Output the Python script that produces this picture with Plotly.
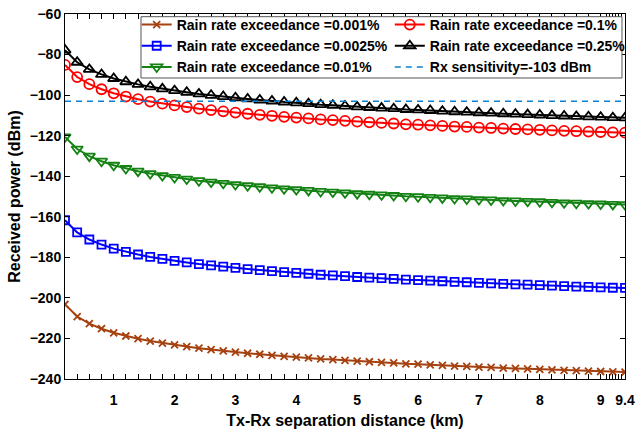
import plotly.graph_objects as go

# Tx-Rx separation distance (km), 0.2 km steps
distance_km = [round(0.2 * k, 1) for k in range(1, 48)]

# Received power (dBm) for each rain rate exceedance
p_0001 = [-203.2, -209.2, -212.7, -215.2, -217.2, -218.8, -220.1, -221.3, -222.3, -223.2,
          -224.0, -224.8, -225.5, -226.1, -226.7, -227.3, -227.8, -228.3, -228.8, -229.2,
          -229.6, -230.1, -230.4, -230.8, -231.2, -231.5, -231.8, -232.1, -232.5, -232.7,
          -233.0, -233.3, -233.6, -233.8, -234.1, -234.3, -234.6, -234.8, -235.0, -235.2,
          -235.5, -235.7, -235.9, -236.1, -236.3, -236.5, -236.6]
p_00025 = [-161.7, -167.7, -171.2, -173.7, -175.7, -177.3, -178.6, -179.8, -180.8, -181.7,
           -182.5, -183.3, -184.0, -184.6, -185.2, -185.8, -186.3, -186.8, -187.3, -187.7,
           -188.1, -188.6, -188.9, -189.3, -189.7, -190.0, -190.3, -190.6, -191.0, -191.2,
           -191.5, -191.8, -192.1, -192.3, -192.6, -192.8, -193.1, -193.3, -193.5, -193.7,
           -194.0, -194.2, -194.4, -194.6, -194.8, -195.0, -195.1]
p_001 = [-120.6, -126.6, -130.1, -132.6, -134.6, -136.2, -137.5, -138.7, -139.7, -140.6,
         -141.4, -142.2, -142.9, -143.5, -144.1, -144.7, -145.2, -145.7, -146.2, -146.6,
         -147.0, -147.5, -147.8, -148.2, -148.6, -148.9, -149.2, -149.5, -149.9, -150.1,
         -150.4, -150.7, -151.0, -151.2, -151.5, -151.7, -152.0, -152.2, -152.4, -152.6,
         -152.9, -153.1, -153.3, -153.5, -153.7, -153.9, -154.0]
p_01 = [-85.1, -91.1, -94.6, -97.1, -99.1, -100.7, -102.0, -103.2, -104.2, -105.1,
        -105.9, -106.7, -107.4, -108.0, -108.6, -109.2, -109.7, -110.2, -110.7, -111.1,
        -111.5, -112.0, -112.3, -112.7, -113.1, -113.4, -113.7, -114.0, -114.4, -114.6,
        -114.9, -115.2, -115.5, -115.7, -116.0, -116.2, -116.5, -116.7, -116.9, -117.1,
        -117.4, -117.6, -117.8, -118.0, -118.2, -118.4, -118.5]
p_025 = [-77.8, -83.8, -87.3, -89.8, -91.8, -93.4, -94.7, -95.9, -96.9, -97.8,
         -98.6, -99.4, -100.1, -100.7, -101.3, -101.9, -102.4, -102.9, -103.4, -103.8,
         -104.2, -104.7, -105.0, -105.4, -105.8, -106.1, -106.4, -106.7, -107.1, -107.3,
         -107.6, -107.9, -108.2, -108.4, -108.7, -108.9, -109.2, -109.4, -109.6, -109.8,
         -110.1, -110.3, -110.5, -110.7, -110.9, -111.1, -111.2]
rx_sensitivity = -103

x_tick_vals = [1, 2, 3, 4, 5, 6, 7, 8, 9, 9.4]
x_tick_text = ["1", "2", "3", "4", "5", "6", "7", "8", "9", "9.4"]
x_minor_vals = distance_km + [9.1, 9.15, 9.25, 9.3, 9.35]
y_tick_vals = [-240, -220, -200, -180, -160, -140, -120, -100, -80, -60]

FONT = "Liberation Sans, Arial, sans-serif"

fig = go.Figure()

series = [
    ("Rain rate exceedance =0.001%", p_0001, "#A5410F", "x-thin", 7, "legend"),
    ("Rain rate exceedance =0.0025%", p_00025, "#0000FF", "square-open", 8, "legend"),
    ("Rain rate exceedance =0.01%", p_001, "#138213", "triangle-down-open", 10, "legend"),
    ("Rain rate exceedance =0.1%", p_01, "#FF0000", "circle-open", 10, "legend2"),
    ("Rain rate exceedance =0.25%", p_025, "#000000", "triangle-up-open", 10, "legend2"),
]
for name, vals, color, sym, size, leg in series:
    fig.add_trace(go.Scatter(
        x=distance_km, y=vals, name=name, mode="lines+markers", legend=leg,
        line=dict(color=color, width=2),
        marker=dict(symbol=sym, size=size, color=color,
                    line=dict(color=color, width=1.8)),
    ))

fig.add_trace(go.Scatter(
    x=[distance_km[0], distance_km[-1]], y=[rx_sensitivity, rx_sensitivity],
    name="Rx sensitivity=-103 dBm", mode="lines", legend="legend2",
    line=dict(color="#0A80D0", width=1.5, dash="6px,5px"),
))

# legend frame spanning both legend columns
fig.add_shape(type="rect", xref="paper", yref="paper",
              x0=0.1357, x1=0.9946, y0=0.8247, y1=0.9926,
              line=dict(color="#555555", width=1), fillcolor="white", layer="above")

legend_font = dict(family=FONT, size=14, color="black", weight="bold")
fig.update_layout(
    width=636, height=429,
    margin=dict(l=65, r=11, t=14, b=50, autoexpand=False),
    paper_bgcolor="white", plot_bgcolor="white",
    showlegend=True,
    legend=dict(x=0.128, y=1.0138, xanchor="left", yanchor="top",
                bgcolor="rgba(0,0,0,0)", borderwidth=0, font=legend_font,
                tracegroupgap=0, itemwidth=30),
    legend2=dict(x=0.580, y=1.0138, xanchor="left", yanchor="top",
                 bgcolor="rgba(0,0,0,0)", borderwidth=0, font=legend_font,
                 tracegroupgap=0, itemwidth=30),
    xaxis=dict(
        range=[0.2, 9.4], tickmode="array", tickvals=x_tick_vals, ticktext=x_tick_text,
        ticks="inside", ticklen=5, tickwidth=1, tickcolor="black",
        minor=dict(tickmode="array", tickvals=x_minor_vals, ticks="inside",
                   ticklen=5, tickwidth=1, tickcolor="black", showgrid=False),
        showline=True, linecolor="black", linewidth=1, mirror="ticks",
        showgrid=False, zeroline=False, ticklabelstandoff=8, automargin=False,
        tickfont=dict(family=FONT, size=14, color="black", weight="bold"),
        title=dict(text="Tx-Rx separation distance (km)", standoff=10,
                   font=dict(family=FONT, size=16, color="black", weight="bold")),
    ),
    yaxis=dict(
        range=[-240, -60], tickmode="array", tickvals=y_tick_vals,
        ticks="inside", ticklen=5, tickwidth=1, tickcolor="black",
        showline=True, linecolor="black", linewidth=1, mirror="ticks",
        showgrid=False, zeroline=False, automargin=False,
        tickfont=dict(family=FONT, size=14, color="black", weight="bold"),
        title=dict(text="Received power (dBm)", standoff=5,
                   font=dict(family=FONT, size=16, color="black", weight="bold")),
    ),
)

fig.write_html("out.html")
